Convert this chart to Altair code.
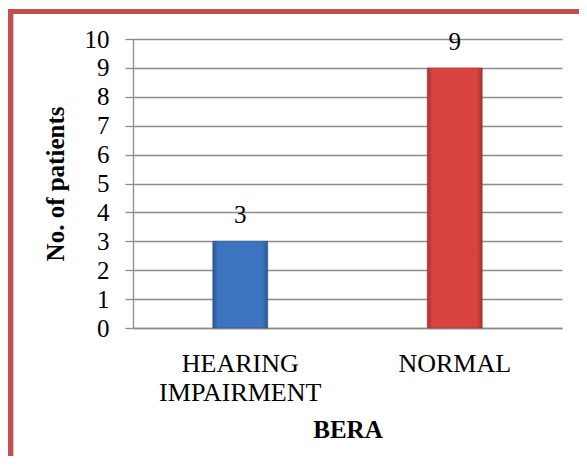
import altair as alt
import pandas as pd

categories = ["HEARING IMPAIRMENT", "NORMAL"]
patients = [3, 9]
y_ticks = list(range(0, 11))

df = pd.DataFrame({"cat": categories, "n": patients})

W, H = 429, 289
PAD = {"left": 125, "top": 31, "right": 17, "bottom": 128}
BORDER = "#C0504D"

xenc = alt.X("cat:N", sort=categories,
             scale=alt.Scale(paddingInner=0, paddingOuter=0),
             axis=alt.Axis(title="BERA", labelAngle=0, labelFont="Liberation Serif",
                           labelFontSize=26, labelColor="black", labelPadding=22,
                           labelLineHeight=29,
                           labelExpr="datum.value == 'HEARING IMPAIRMENT' ? ['HEARING','IMPAIRMENT'] : datum.value",
                           titleFont="Liberation Serif", titleFontSize=25, titleFontWeight="bold",
                           titleColor="black", titlePadding=12,
                           ticks=False, domainColor="#8c8c8c", domainWidth=1.3, grid=False))
yenc = alt.Y("n:Q", scale=alt.Scale(domain=[0, 10], nice=False),
             axis=alt.Axis(title="No. of patients", values=y_ticks, labelOverlap=False,
                           labelFont="Liberation Serif",
                           labelFontSize=25, labelColor="black", labelPadding=16,
                           titleFont="Liberation Serif", titleFontSize=25, titleFontWeight="bold",
                           titleColor="black", titlePadding=16,
                           tickSize=8, tickColor="#8c8c8c", tickWidth=1.3,
                           domainColor="#8c8c8c", domainWidth=1.3,
                           gridColor="#8c8c8c", gridWidth=1.3))

def grad(dark, mid):
    return alt.LinearGradient(gradient="linear", x1=0, x2=1, y1=0, y2=0,
                              stops=[alt.GradientStop(offset=0, color=dark),
                                     alt.GradientStop(offset=0.1, color=mid),
                                     alt.GradientStop(offset=0.9, color=mid),
                                     alt.GradientStop(offset=1, color=dark)])

base = alt.Chart(df)
blue = base.transform_filter(alt.datum.cat == categories[0]).mark_bar(
    size=55, color=grad("#2A5896", "#3C74BF"), stroke="#264f88", strokeWidth=0.5
).encode(x=xenc, y=yenc)
red = base.transform_filter(alt.datum.cat == categories[1]).mark_bar(
    size=55, color=grad("#A53230", "#D7443F"), stroke="#9a2f2c", strokeWidth=0.5
).encode(x=xenc, y=yenc)
text = base.mark_text(dy=-26, font="Liberation Serif", fontSize=25, color="black").encode(
    x=xenc, y=yenc, text="n:Q")

left_border = base.mark_rule(color=BORDER, strokeWidth=5).encode(
    x=alt.value(-122.3), y=alt.value(-30), y2=alt.value(H + 200))
top_border = base.mark_rule(color=BORDER, strokeWidth=5).encode(
    x=alt.value(-124.5), x2=alt.value(W + 40), y=alt.value(-27.5))

chart = alt.layer(blue, red, text, left_border, top_border).properties(
    width=W, height=H, autosize=alt.AutoSizeParams(type="none"), padding=PAD,
    background="white"
).configure_view(stroke=None)

chart.save("out.html", embed_options={"renderer": "svg", "actions": False})
